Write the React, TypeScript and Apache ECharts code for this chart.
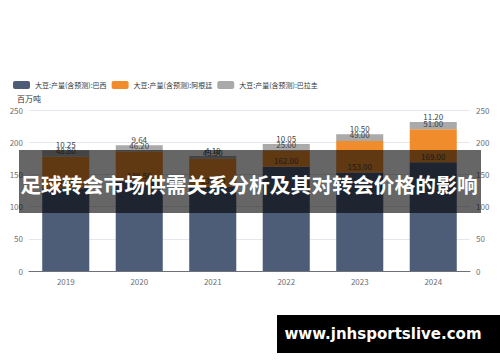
import React, { useEffect, useRef } from "react";
import * as echarts from "echarts";

const years = ["2019", "2020", "2021", "2022", "2023", "2024"];
const brazil = [128.5, 139.5, 130.5, 162.0, 153.0, 169.0];
const argentina = [48.8, 46.2, 43.9, 25.0, 49.0, 51.0];
const paraguay = [10.25, 9.64, 4.18, 10.05, 10.5, 11.2];
const seriesNames = ["大豆:产量(含预测):巴西", "大豆:产量(含预测):阿根廷", "大豆:产量(含预测):巴拉圭"];
const colors = ["#4d5d78", "#f08c2c", "#aaaaaa"];
const unitName = "百万吨";
const overlayTitle = "足球转会市场供需关系分析及其对转会价格的影响";
const siteText = "www.jnhsportslive.com";

const FONT = "'Noto Sans CJK SC', 'Noto Sans', sans-serif";

export default function App() {
  const ref = useRef<HTMLDivElement>(null);
  useEffect(() => {
    if (!ref.current) return;
    const chart = echarts.init(ref.current, undefined, { renderer: "svg" });
    const datas = [brazil, argentina, paraguay];
    const yAxisBase = {
      type: "value" as const,
      min: 0,
      max: 250,
      interval: 50,
      axisLabel: { fontSize: 8, color: "#6e7079", fontFamily: FONT, margin: 6 },
      splitLine: { lineStyle: { color: "#e6e7ee" } },
      axisLine: { show: false },
      axisTick: { show: false },
    };
    chart.setOption({
      animation: false,
      textStyle: { fontFamily: FONT },
      color: colors,
      legend: {
        left: 8,
        top: 76,
        itemWidth: 17,
        itemHeight: 8,
        itemGap: 5,
        icon: "roundRect",
        textStyle: { fontSize: 7, color: "#333", fontFamily: FONT },
        data: seriesNames,
      },
      grid: { left: 29, right: 30, top: 110, bottom: 91, containLabel: false },
      xAxis: {
        type: "category",
        data: years,
        axisLine: { lineStyle: { color: "#6e7079" } },
        axisTick: { alignWithLabel: false, lineStyle: { color: "#6e7079" } },
        axisLabel: { fontSize: 8, color: "#6e7079", fontFamily: FONT, margin: 6 },
      },
      yAxis: [
        {
          ...yAxisBase,
          name: unitName,
          nameGap: 8,
          nameTextStyle: { fontSize: 8, color: "#333", fontFamily: FONT, align: "center" },
        },
        { ...yAxisBase, position: "right" },
      ],
      series: seriesNames.map((name, i) => ({
        name,
        type: "bar",
        stack: "total",
        barCategoryGap: "36%",
        data: datas[i],
        itemStyle: { color: colors[i] },
        label: {
          show: true,
          position: "top",
          distance: 2,
          fontSize: 8,
          color: "#444",
          fontFamily: FONT,
          formatter: (p: any) => Number(p.value).toFixed(2),
        },
      })),
      graphic: [
        {
          type: "rect",
          z: 100,
          shape: { x: 19, y: 150, width: 462, height: 63 },
          style: { fill: "rgba(0,0,0,0.6)" },
        },
        {
          type: "text",
          z: 101,
          x: 249,
          y: 184,
          style: {
            text: overlayTitle,
            fill: "#ffffff",
            font: `bold 20.8px ${FONT}`,
            textAlign: "center",
            textVerticalAlign: "middle",
          },
        },
        {
          type: "rect",
          z: 100,
          shape: { x: 277, y: 315, width: 223, height: 38 },
          style: { fill: "#000000" },
        },
        {
          type: "text",
          z: 101,
          x: 383,
          y: 334,
          style: {
            text: siteText,
            fill: "#ffffff",
            font: `bold 15px 'DejaVu Sans', sans-serif`,
            textAlign: "center",
            textVerticalAlign: "middle",
          },
        },
      ],
    });
    return () => chart.dispose();
  }, []);
  return (
    <div
      ref={ref}
      style={{ position: "fixed", left: 0, top: 0, width: 500, height: 362, background: "#fff" }}
    />
  );
}
